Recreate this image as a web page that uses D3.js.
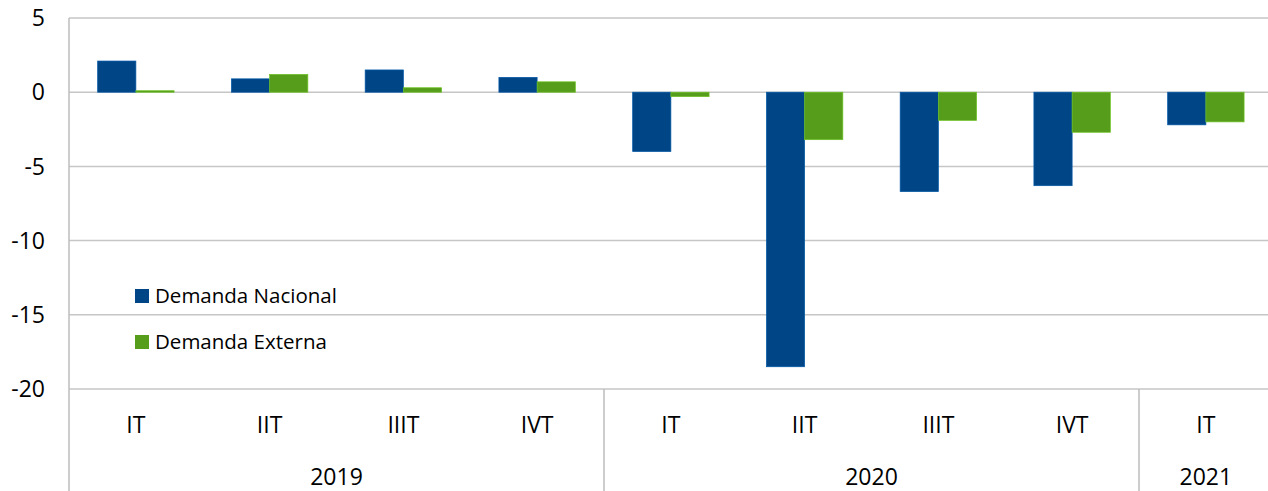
<!DOCTYPE html>
<html>
<head>
<meta charset="utf-8">
<script src="https://cdn.jsdelivr.net/npm/d3@7"></script>
<style>
  body { margin: 0; background: #fff; }
  svg { display: block; font-family: "Open Sans", "Noto Sans", sans-serif; }
</style>
</head>
<body>
<div id="chart"></div>
<script>
// quarters along the bottom, grouped by year
const quarters = ['IT', 'IIT', 'IIIT', 'IVT', 'IT', 'IIT', 'IIIT', 'IVT', 'IT']
const years = ['2019', '2020', '2021']
const quartersPerYear = [4, 4, 1]

const seriesNames = ['Demanda Nacional', 'Demanda Externa']
const nacional = [2.1, 0.9, 1.5, 1.0, -4.0, -18.5, -6.7, -6.3, -2.2]
const externa = [0.1, 1.2, 0.3, 0.7, -0.3, -3.2, -1.9, -2.7, -2.0]
const seriesColors = ['#004687', '#579d1c']

const yTicks = [5, 0, -5, -10, -15, -20]

var w = 1268, h = 491
var plotLeft = 69, plotTop = 18, plotBottom = 389
var catWidth = 133.75

var svg = d3.select('#chart')
  .append('svg')
  .attr('width', w)
  .attr('height', h)

var y = d3.scaleLinear()
  .domain([-20, 5])
  .range([plotBottom, plotTop])

var idx = quarters.map((q, i) => i)
var x = d3.scaleBand()
  .domain(idx)
  .range([plotLeft, plotLeft + catWidth * quarters.length])
  .padding(0)

var xs = d3.scaleBand()
  .domain(seriesNames)
  .range([0, x.bandwidth()])
  .paddingInner(0)
  .paddingOuter(0.75)

// gridlines
svg.append('g')
  .selectAll('line')
  .data(yTicks)
  .enter()
  .append('line')
  .attr('x1', plotLeft)
  .attr('x2', w)
  .attr('y1', d => y(d))
  .attr('y2', d => y(d))
  .style('stroke', '#c6c6c6')
  .style('stroke-width', 1.5)

// y labels
svg.append('g')
  .selectAll('text')
  .data(yTicks)
  .enter()
  .append('text')
  .attr('x', 45)
  .attr('y', d => y(d))
  .attr('dy', '0.36em')
  .attr('text-anchor', 'end')
  .style('font-size', '23px')
  .style('fill', '#000')
  .text(d => d)

// bars
var rows = quarters.map((q, i) => [nacional[i], externa[i]])
var groups = svg.append('g')
  .selectAll('g')
  .data(rows)
  .enter()
  .append('g')
  .attr('transform', (d, i) => 'translate(' + x(i) + ',0)')

groups.selectAll('rect')
  .data(d => d.map((v, j) => ({ v: v, s: seriesNames[j], c: seriesColors[j] })))
  .enter()
  .append('rect')
  .attr('x', d => xs(d.s))
  .attr('width', xs.bandwidth())
  .attr('y', d => y(Math.max(0, d.v)))
  .attr('height', d => Math.abs(y(d.v) - y(0)))
  .attr('fill', d => d.c)
  .style('stroke', d => d3.color(d.c).brighter(0.6))
  .style('stroke-width', 0.7)

// left axis line + year separators
var sepX = [plotLeft]
var acc = 0
quartersPerYear.forEach(n => { acc += n; sepX.push(x(acc - 1) + x.bandwidth()) })

svg.append('g')
  .selectAll('line')
  .data(sepX)
  .enter()
  .append('line')
  .attr('x1', d => d)
  .attr('x2', d => d)
  .attr('y1', (d, i) => i == 0 ? plotTop : plotBottom)
  .attr('y2', h)
  .style('stroke', '#bdbdbd')
  .style('stroke-width', 1.5)

// quarter labels
svg.append('g')
  .selectAll('text')
  .data(quarters)
  .enter()
  .append('text')
  .attr('x', (d, i) => x(i) + x.bandwidth() / 2)
  .attr('y', 425)
  .attr('dy', '0.36em')
  .attr('text-anchor', 'middle')
  .style('font-size', '23px')
  .text(d => d)

// year labels
svg.append('g')
  .selectAll('text')
  .data(years)
  .enter()
  .append('text')
  .attr('x', (d, i) => (sepX[i] + sepX[i + 1]) / 2)
  .attr('y', 477)
  .attr('dy', '0.36em')
  .attr('text-anchor', 'middle')
  .style('font-size', '23px')
  .text(d => d)

// legend
var legend = svg.selectAll('.legend')
  .data(seriesNames)
  .enter()
  .append('g')
  .attr('class', 'legend')
  .attr('transform', (d, i) => 'translate(135,' + (289 + i * 46) + ')')

legend.append('rect')
  .attr('width', 14)
  .attr('height', 14)
  .attr('fill', (d, i) => seriesColors[i])

legend.append('text')
  .attr('x', 20)
  .attr('y', 7)
  .attr('dy', '0.36em')
  .style('font-size', '20.5px')
  .style('fill', '#000')
  .text(d => d)
</script>
</body>
</html>
